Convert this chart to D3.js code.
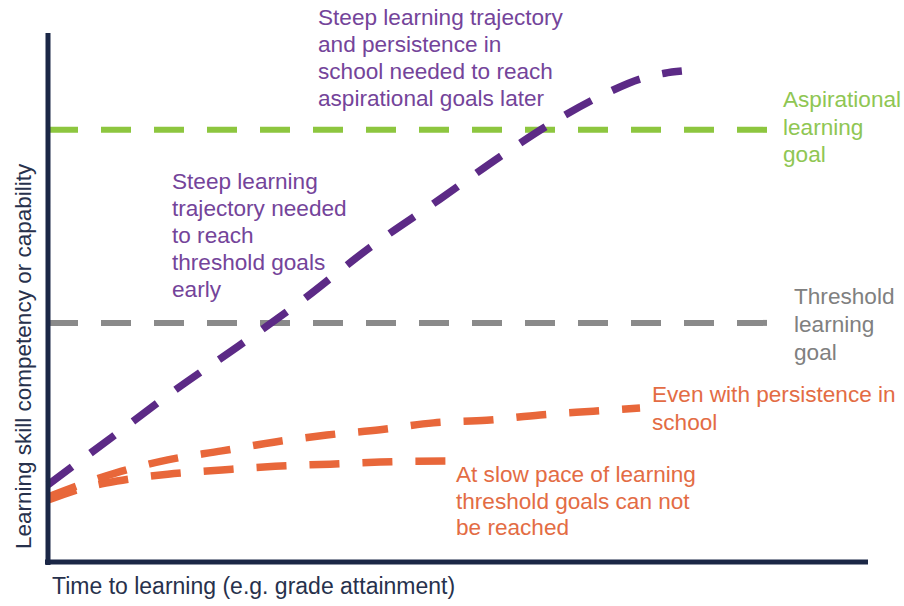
<!DOCTYPE html>
<html>
<head>
<meta charset="utf-8">
<script src="https://cdn.jsdelivr.net/npm/d3@7"></script>
<style>
  html, body { margin: 0; padding: 0; background: #ffffff; }
  svg { display: block; font-family: "Liberation Sans", Arial, Helvetica, sans-serif; }
</style>
</head>
<body>
<svg id="chart" width="904" height="606"></svg>
<script>
// ---- Data (time vs. competency, arbitrary 0-100 units) ----
const purpleX = [0, 7.8, 15.5, 23.4, 30.7, 39.3, 47.8, 55.1, 62.4, 68.2, 72.2, 75.2, 77.3];
const purpleY = [14.6, 23.6, 32.5, 41.0, 49.1, 59.5, 68.6, 76.6, 83.9, 88.7, 91.3, 92.4, 92.8];

const persistX = [0, 3.9, 8.2, 14.6, 21.2, 27.7, 34.0, 40.5, 47.0, 53.5, 60.0, 66.5, 72.2];
const persistY = [12.3, 14.6, 16.8, 19.3, 21.0, 22.7, 24.0, 25.0, 26.3, 26.8, 27.8, 28.5, 29.1];

const slowX = [0, 3.9, 8.4, 14.6, 21.2, 27.7, 34.4, 40.5, 49.0];
const slowY = [11.7, 13.8, 15.3, 16.6, 17.4, 18.1, 18.5, 18.9, 19.1];

const goalNames = ["Aspirational", "Threshold"];
const goalLevels = [81.7, 45.2];
const goalEndX = 88;

const xAxisLabel = "Time to learning (e.g. grade attainment)";
const yAxisLabel = "Learning skill competency or capability";

const annoPurpleLate = ["Steep learning trajectory", "and persistence in", "school needed to reach", "aspirational goals later"];
const annoPurpleEarly = ["Steep learning", "trajectory needed", "to reach", "threshold goals", "early"];
const annoAspirational = ["Aspirational", "learning", "goal"];
const annoThreshold = ["Threshold", "learning", "goal"];
const annoPersist = ["Even with persistence in", "school"];
const annoSlow = ["At slow pace of learning", "threshold goals can not", "be reached"];

// ---- Setup ----
const svg = d3.select("#chart");
const x = d3.scaleLinear().domain([0, 100]).range([48, 868]);
const y = d3.scaleLinear().domain([0, 100]).range([562, 33]);

const colors = {
  axis: "#1b2746",
  axisText: "#27314c",
  purple: "#5c2a86",
  purpleText: "#74449a",
  green: "#8dc63f",
  greenText: "#8fc653",
  gray: "#8a8a8a",
  grayText: "#808080",
  orange: "#e8673a",
  orangeText: "#e36c44"
};

const dash = "30,23";
const lineGen = d3.line().x(d => x(d[0])).y(d => y(d[1])).curve(d3.curveMonotoneX);

// Goal lines
const goalColors = [colors.green, colors.gray];
goalLevels.forEach((lv, i) => {
  svg.append("line")
    .attr("x1", x(0)).attr("x2", x(goalEndX))
    .attr("y1", y(lv)).attr("y2", y(lv))
    .attr("stroke", goalColors[i])
    .attr("stroke-width", 6)
    .attr("stroke-dasharray", dash);
});

// Trajectories
function drawSeries(xs, ys, color) {
  const pts = xs.map((v, i) => [v, ys[i]]);
  svg.append("path")
    .attr("d", lineGen(pts))
    .attr("fill", "none")
    .attr("stroke", color)
    .attr("stroke-width", 7.5)
    .attr("stroke-dasharray", dash);
}
drawSeries(slowX, slowY, colors.orange);
drawSeries(persistX, persistY, colors.orange);
drawSeries(purpleX, purpleY, colors.purple);

// Axes (plain lines, no ticks)
const xAxis = d3.axisBottom(x).tickValues([]).tickSizeOuter(0);
const yAxis = d3.axisLeft(y).tickValues([]).tickSizeOuter(0);
const gx = svg.append("g").attr("transform", `translate(0,${y(0)})`).call(xAxis);
const gy = svg.append("g").attr("transform", `translate(${x(0)},0)`).call(yAxis);
[gx, gy].forEach(g => g.select(".domain").attr("stroke", colors.axis).attr("stroke-width", 5));
gx.select(".domain").attr("d", `M${x(0) - 3},0H${x(100)}`);
gy.select(".domain").attr("d", `M0,${y(0) + 3}V${y(100)}`);

// Axis labels
svg.append("text")
  .attr("x", 52).attr("y", 594)
  .attr("fill", colors.axisText)
  .attr("font-size", 23)
  .text(xAxisLabel);

svg.append("text")
  .attr("transform", `translate(31,549) rotate(-90)`)
  .attr("fill", colors.axisText)
  .attr("font-size", 22.5)
  .text(yAxisLabel);

// Annotations
function block(lines, x0, y0, color, lh) {
  const t = svg.append("text").attr("fill", color).attr("font-size", 22.6);
  lines.forEach((s, i) => {
    t.append("tspan").attr("x", x0).attr("y", y0 + i * lh).text(s);
  });
}
block(annoPurpleLate, 318, 25, colors.purpleText, 27);
block(annoPurpleEarly, 172, 189, colors.purpleText, 27);
block(annoAspirational, 783, 107, colors.greenText, 27.5);
block(annoThreshold, 794, 304, colors.grayText, 28);
block(annoPersist, 652, 402, colors.orangeText, 27.5);
block(annoSlow, 456, 482, colors.orangeText, 26.5);
</script>
</body>
</html>
